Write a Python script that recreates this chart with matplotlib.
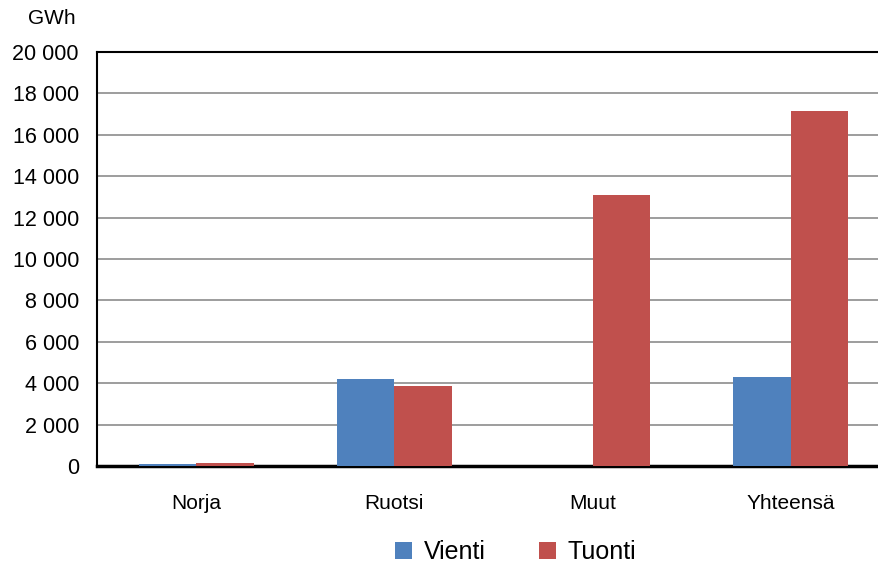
import matplotlib.pyplot as plt
import numpy as np

plt.rcParams['font.family'] = ['Liberation Sans', 'DejaVu Sans']

# Data
categories = ['Norja', 'Ruotsi', 'Muut', 'Yhteensä']
vienti = [80, 4200, 0, 4300]
tuonti = [150, 3860, 13100, 17150]
yticks = np.arange(0, 20001, 2000)

x = np.arange(len(categories))
width = 0.29

fig = plt.figure(figsize=(8.79, 5.66), dpi=100)
ax = fig.add_axes([0.1104, 0.1767, 0.9022, 0.7313])

ax.bar(x - width/2, vienti, width, color='#4f81bd', label='Vienti', zorder=3)
ax.bar(x + width/2, tuonti, width, color='#c0504d', label='Tuonti', zorder=3)

ax.set_xlim(-0.5, 3.5)
ax.set_ylim(0, 20000)
ax.set_yticks(yticks)
ax.set_yticklabels([f'{v:,}'.replace(',', ' ') for v in yticks], fontsize=15.5)
ax.set_xticks(x)
ax.set_xticklabels(categories, fontsize=15)
ax.tick_params(axis='y', length=0, pad=13)
ax.tick_params(axis='x', length=0, pad=20)

ax.grid(axis='y', color='#8c8c8c', linewidth=1.2, zorder=0)
ax.spines['right'].set_visible(False)
ax.spines['top'].set_linewidth(1.5)
ax.spines['left'].set_linewidth(1.5)
ax.spines['bottom'].set_linewidth(2.5)

fig.text(52/879, 1 - 19/566, 'GWh', fontsize=15, ha='center', va='center')

ax.legend(loc='center', bbox_to_anchor=(0.528, (466 - 552)/414), ncol=2, frameon=False,
          fontsize=18, handlelength=0.68, handleheight=0.68, columnspacing=2.15,
          handletextpad=0.45)

plt.savefig('out.png', dpi=100)
